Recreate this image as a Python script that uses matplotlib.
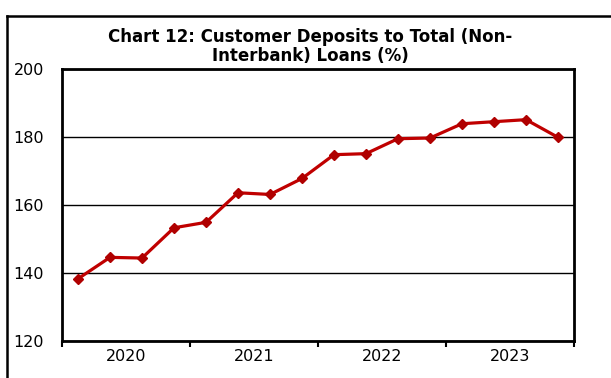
import matplotlib.pyplot as plt
from matplotlib.lines import Line2D

plt.rcParams['font.family'] = ['DejaVu Sans']

# Customer deposits to total (non-interbank) loans, quarterly 2020Q1-2023Q4
quarters = ['2020Q1', '2020Q2', '2020Q3', '2020Q4',
            '2021Q1', '2021Q2', '2021Q3', '2021Q4',
            '2022Q1', '2022Q2', '2022Q3', '2022Q4',
            '2023Q1', '2023Q2', '2023Q3', '2023Q4']
ratio = [138.3, 144.6, 144.4, 153.3, 154.9, 163.6, 163.1, 167.8,
         174.8, 175.1, 179.5, 179.7, 183.9, 184.5, 185.1, 179.9]
years = ['2020', '2021', '2022', '2023']
yticks = [120, 140, 160, 180, 200]

W, H = 611, 378
fig = plt.figure(figsize=(W / 100, H / 100), dpi=100)
ax = fig.add_axes([62 / W, 1 - 341 / H, (574 - 62) / W, (341 - 69) / H])

x = list(range(len(quarters)))
ax.plot(x, ratio, color='#C00000', lw=2.3, marker='D', ms=5,
        markerfacecolor='#B00000', markeredgecolor='#B00000', zorder=3)

ax.set_ylim(120, 200)
ax.set_yticks(yticks)
ax.set_xlim(-0.5, len(quarters) - 0.5)
ax.grid(axis='y', color='black', lw=1.0)
ax.set_axisbelow(True)

# year boundaries as ticks, year names centred between them
ax.set_xticks([-0.5 + 4 * i for i in range(len(years) + 1)])
ax.set_xticklabels([])
ax.set_xticks([1.5 + 4 * i for i in range(len(years))], minor=True)
ax.set_xticklabels(years, minor=True)
ax.tick_params(axis='x', which='major', direction='out', length=4, width=1.5)
ax.tick_params(axis='x', which='minor', length=0, pad=6, labelsize=11.5)
ax.tick_params(axis='y', length=0, pad=13, labelsize=11.5)

for s in ax.spines.values():
    s.set_linewidth(2.0)
    s.set_color('black')

fig.text(0.508, 1 - 46.5 / H, 'Chart 12: Customer Deposits to Total (Non-\nInterbank) Loans (%)',
         ha='center', va='center', fontsize=12, fontweight='bold', linespacing=1.1)

# outer chart frame (partly cropped)
fig.add_artist(Line2D([7 / W, 7 / W], [0, 1 - 15.5 / H], color='black', lw=1.8,
                      transform=fig.transFigure))
fig.add_artist(Line2D([7 / W, 1], [1 - 15.5 / H, 1 - 15.5 / H], color='black', lw=1.8,
                      transform=fig.transFigure))

fig.savefig('out.png', dpi=100)
